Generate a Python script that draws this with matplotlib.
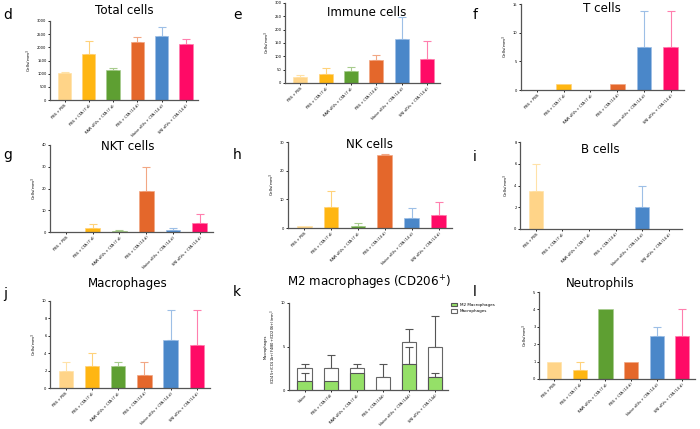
import matplotlib.pyplot as plt
import numpy as np

W, H = 700, 429

groups = ["PBS + PBS", "PBS + CFA (7 d)", "RAW sEVs + CFA (7 d)",
          "PBS + CFA (14 d)", "Naive sEVs + CFA (14 d)", "SNI sEVs + CFA (14 d)"]
groups_k = ["Naive", "PBS + CFA (7d)", "RAW sEVs + CFA (7 d)",
            "PBS + CFA (14d)", "Naive sEVs + CFA (14d)", "SNI sEVs + CFA (14d)"]
colors = ["#FFD488", "#FFB612", "#5E9F32", "#E4672B", "#4A87C9", "#FF0A66"]
err_colors = ["#FFE2A8", "#FFD27A", "#A8CC8E", "#F2A784", "#9DBFE6", "#FF7FAE"]

# mean values and upper error (top of error bar)
total = [1010, 1750, 1130, 2200, 2420, 2140]
total_err = [1060, 2250, 1200, 2380, 2790, 2300]
immune = [22, 35, 45, 85, 164, 91]
immune_err = [30, 57, 61, 104, 246, 156]
tcells = [0, 1, 0, 1, 7.5, 7.5]
tcells_err = [0, 1, 0, 1, 13.8, 13.8]
nkt = [0, 2, 0.5, 18.8, 0.8, 4]
nkt_err = [0, 3.8, 1, 29.8, 2, 8.2]
nk = [0.8, 7.5, 0.8, 25.5, 3.5, 4.5]
nk_err = [0.8, 12.9, 1.8, 25.9, 6.9, 9.1]
bcells = [3.5, 0, 0, 0, 2, 0]
bcells_err = [6, 0, 0, 0, 4, 0]
macro = [2, 2.5, 2.5, 1.5, 5.5, 5]
macro_err = [3, 4, 3, 3, 9, 9]
m2 = [1, 1, 2, 0, 3, 1.5]
m2_err = [2, 1, 2, 0, 5, 2]
mac_k = [2.5, 2.5, 2.5, 1.5, 5.5, 5]
mac_k_err = [3, 4, 3, 3, 7, 8.5]
neutro = [1, 0.5, 4, 1, 2.5, 2.5]
neutro_err = [1, 1, 4, 1, 3, 4]

TITLE_FS = 8.6
LETTER_FS = 10

fig = plt.figure(figsize=(W / 100, H / 100), dpi=100)
fig.patch.set_facecolor("white")


def add_ax(x0, y0, x1, y1):
    # pixel box (left, top, right, bottom) -> figure coords
    return fig.add_axes([x0 / W, 1 - y1 / H, (x1 - x0) / W, (y1 - y0) / H])


def style(ax, ymax, step, labels, ylabel):
    ax.set_ylim(0, ymax)
    ax.set_yticks(np.arange(0, ymax + step / 2, step))
    ax.set_xlim(-0.6, 5.5)
    ax.set_xticks(range(6))
    ax.set_xticklabels(labels, rotation=45, ha="right", rotation_mode="anchor",
                       fontsize=2.6)
    ax.tick_params(axis="y", labelsize=2.6, length=1.5, width=0.6, pad=1)
    ax.tick_params(axis="x", length=1.5, width=0.6, pad=1)
    for s in ["top", "right"]:
        ax.spines[s].set_visible(False)
    for s in ["left", "bottom"]:
        ax.spines[s].set_color("#555555")
        ax.spines[s].set_linewidth(0.9)
    ax.set_ylabel(ylabel, fontsize=3, labelpad=2)


def bar_panel(box, vals, errs, ymax, step, title, tpos, letter, lpos):
    ax = add_ax(*box)
    x = np.arange(6)
    ax.bar(x, vals, width=0.55, color=colors, edgecolor=err_colors,
           linewidth=0.5, zorder=2)
    for i in range(6):
        if errs[i] > vals[i]:
            ax.errorbar(x[i], vals[i], yerr=[[0], [errs[i] - vals[i]]],
                        ecolor=err_colors[i], elinewidth=0.8, capsize=3,
                        capthick=0.8, zorder=1)
    style(ax, ymax, step, groups, "Cells/mm$^3$")
    fig.text(tpos[0] / W, 1 - tpos[1] / H, title, ha="center", va="center",
             fontsize=TITLE_FS)
    fig.text(lpos[0] / W, 1 - lpos[1] / H, letter, ha="left", va="center",
             fontsize=LETTER_FS)
    return ax


bar_panel((50, 21, 198, 100), total, total_err, 3000, 500,
          "Total cells", (124, 10), "d", (3, 15))
bar_panel((285, 3, 440, 83), immune, immune_err, 300, 50,
          "Immune cells", (367, 12), "e", (233, 15))
bar_panel((521, 4, 684, 90), tcells, tcells_err, 15, 5,
          "T cells", (602, 8), "f", (473, 15))
bar_panel((50, 145, 213, 232), nkt, nkt_err, 40, 10,
          "NKT cells", (128, 147), "g", (3, 155))
bar_panel((288, 142, 452, 228), nk, nk_err, 30, 10,
          "NK cells", (370, 144), "h", (233, 155))
bar_panel((520, 142, 682, 229), bcells, bcells_err, 8, 2,
          "B cells", (600, 150), "i", (473, 157))
bar_panel((50, 301, 210, 388), macro, macro_err, 10, 2,
          "Macrophages", (128, 283), "j", (3, 294))
bar_panel((539, 292, 695, 379), neutro, neutro_err, 5, 1,
          "Neutrophils", (600, 283), "l", (473, 292))

# panel k: M2 macrophages overlaid on total macrophages
ax = add_ax(289, 303, 448, 390)
x = np.arange(6)
for i in range(6):
    ax.errorbar(x[i], mac_k[i], yerr=[[0], [mac_k_err[i] - mac_k[i]]],
                ecolor="#555555", elinewidth=0.8, capsize=3, capthick=0.8,
                zorder=1)
ax.bar(x, mac_k, width=0.55, color="white", edgecolor="#666666",
       linewidth=0.8, zorder=2, label="Macrophages")
for i in range(6):
    if m2_err[i] > m2[i]:
        ax.errorbar(x[i], m2[i], yerr=[[0], [m2_err[i] - m2[i]]],
                    ecolor="#555555", elinewidth=0.8, capsize=3,
                    capthick=0.8, zorder=3)
ax.bar(x, m2, width=0.55, color="#95E068", edgecolor="#555555",
       linewidth=0.8, zorder=4, label="M2 Macrophages")
style(ax, 10, 5, groups_k, "Macrophages\n(CD45+/CD11b+/F4/80+/CD206+)/mm$^3$")
ax.yaxis.label.set_size(2.6)
h, l = ax.get_legend_handles_labels()
ax.legend(h[::-1], l[::-1], loc="upper left", bbox_to_anchor=(1.0, 1.03),
          fontsize=3, frameon=False, handlelength=1.5, handleheight=0.9,
          borderaxespad=0.2)
fig.text(369 / W, 1 - 283 / H, "M2 macrophages (CD206$^{+}$)", ha="center",
         va="center", fontsize=TITLE_FS)
fig.text(233 / W, 1 - 292 / H, "k", ha="left", va="center", fontsize=LETTER_FS)

fig.savefig("out.png", dpi=100)
